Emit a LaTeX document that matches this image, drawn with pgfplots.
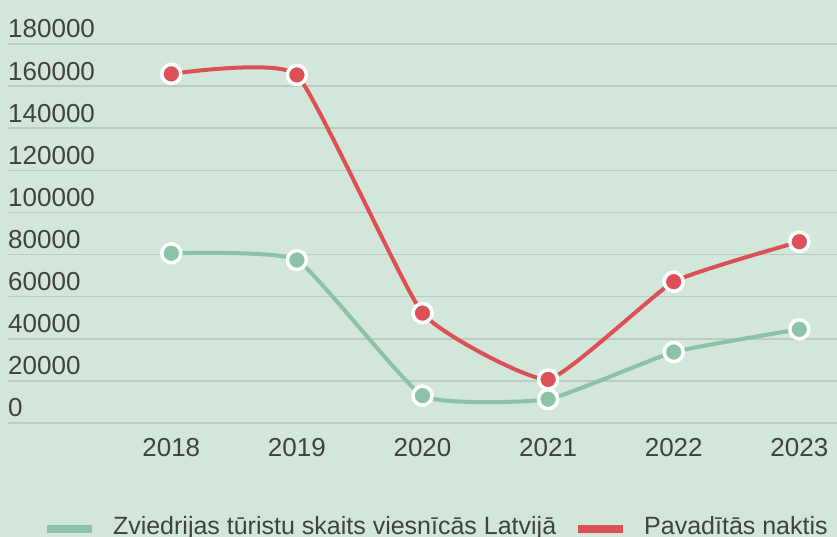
\documentclass[border=0pt]{standalone}
\usepackage{pgfplots}
\pgfplotsset{compat=1.18}
\usepackage{fontspec}
\setmainfont{Liberation Sans}
\definecolor{bg}{HTML}{D2E6DA}
\definecolor{gridc}{HTML}{B9CEC1}
\definecolor{grn}{HTML}{8CC3A6}
\definecolor{rd}{HTML}{DC5157}
\definecolor{txt}{HTML}{424242}
\begin{document}
\begin{tikzpicture}
\fill[bg] (0,0) rectangle (837pt,537pt);
\path[use as bounding box] (0,0) rectangle (837pt,537pt);
\begin{axis}[
  at={(8pt,114pt)}, anchor=south west,
  scale only axis, width=829pt, height=379pt,
  xmin=-1.3, xmax=5.3, ymin=0, ymax=180000,
  clip=false,
  scaled y ticks=false,
  axis line style={draw=none},
  major tick length=0pt,
  ytick={0,20000,40000,60000,80000,100000,120000,140000,160000,180000},
  yticklabels={0,20000,40000,60000,80000,100000,120000,140000,160000,180000},
  xtick={0,1,2,3,4,5},
  xticklabels={2018,2019,2020,2021,2022,2023},
  ymajorgrids,
  major grid style={draw=gridc, line width=1.6pt},
  tick label style={font=\fontsize{26}{30}\selectfont, text=txt, inner sep=0pt},
  yticklabel style={anchor=base west, yshift=6pt},
  xticklabel style={anchor=base, yshift=-34pt},
  legend columns=2,
  legend style={at={(0.042,-0.2955)}, anchor=south west, draw=none, fill=none,
    font=\fontsize{25}{30}\selectfont, text=txt, inner sep=0pt,
    nodes={inner sep=0pt, text depth=0pt},
    /tikz/every odd column/.append style={column sep=17pt},
    /tikz/every even column/.append style={column sep=18pt}},
  legend image code/.code={\draw[line width=8pt] (0pt,-3.4pt) -- (45pt,-3.4pt);},
]
\addplot[grn, line width=4pt, smooth, tension=0.25,
  mark=*, mark size=9.5pt, mark options={draw=white, line width=3.5pt, fill=grn}]
  coordinates {(0,80600) (1,77400) (2,13000) (3,11300) (4,33700) (5,44500)};
\addlegendentry{Zviedrijas tūristu skaits viesnīcās Latvijā}
\addplot[rd, line width=4pt, smooth, tension=0.25,
  mark=*, mark size=9.5pt, mark options={draw=white, line width=3.5pt, fill=rd}]
  coordinates {(0,165800) (1,165300) (2,52200) (3,20700) (4,67100) (5,86100)};
\addlegendentry{Pavadītās naktis}
\end{axis}
\end{tikzpicture}
\end{document}
